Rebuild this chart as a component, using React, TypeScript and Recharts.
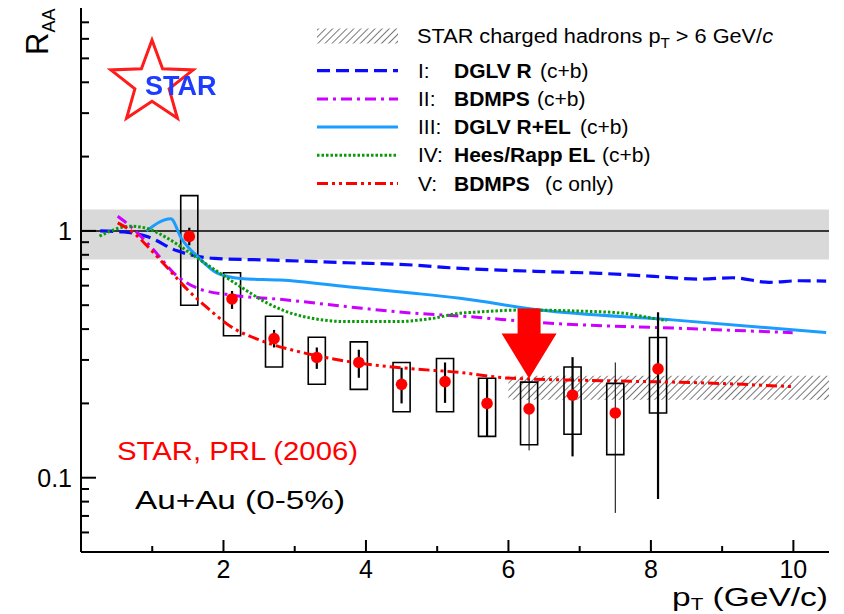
import React from "react";
import {
  ComposedChart,
  Line,
  Scatter,
  XAxis,
  YAxis,
  ReferenceArea,
  ReferenceLine,
} from "recharts";

// theory curves: pT (GeV/c) and R_AA
const dglvRX = [0.27, 0.6, 0.94, 1.35, 1.87, 2.71, 3.74, 4.67, 5.18, 5.88, 6.58, 7.28, 7.98, 8.68, 9.15, 9.66, 10.08, 10.46];
const dglvRY = [1.0, 0.99, 0.946, 0.83, 0.774, 0.761, 0.743, 0.727, 0.709, 0.694, 0.683, 0.673, 0.656, 0.638, 0.646, 0.619, 0.628, 0.626];

const bdmpsCbX = [0.515, 0.7, 0.98, 1.36, 1.64, 2.1, 2.8, 3.74, 4.67, 5.32, 6.54, 8.31, 9.99];
const bdmpsCbY = [1.147, 1.04, 0.862, 0.652, 0.585, 0.55, 0.528, 0.493, 0.464, 0.452, 0.423, 0.404, 0.387];

const dglvElX = [0.92, 1.26, 1.41, 1.64, 1.92, 2.24, 2.8, 3.74, 4.67, 5.32, 6.44, 8.3, 10.46];
const dglvElY = [1.0, 1.12, 0.932, 0.785, 0.673, 0.642, 0.632, 0.594, 0.559, 0.533, 0.478, 0.436, 0.387];

const heesRappX = [0.26, 0.42, 0.7, 0.94, 1.22, 1.54, 1.87, 2.24, 2.62, 3.04, 3.74, 4.44, 4.95, 5.32, 5.51, 6.21, 6.91, 7.61, 7.94, 8.22];
const heesRappY = [0.952, 1.0, 1.045, 1.02, 0.932, 0.81, 0.698, 0.594, 0.509, 0.456, 0.429, 0.429, 0.443, 0.464, 0.468, 0.478, 0.474, 0.464, 0.447, 0.433];

const bdmpsCX = [0.515, 0.75, 0.94, 1.22, 1.5, 1.78, 2.1, 2.52, 3.04, 3.74, 4.67, 5.32, 5.98, 7.38, 8.78, 9.97];
const bdmpsCY = [1.077, 0.976, 0.862, 0.705, 0.576, 0.486, 0.41, 0.36, 0.325, 0.296, 0.276, 0.267, 0.2535, 0.247, 0.242, 0.234];

// STAR non-photonic electrons, central Au+Au
const dataX = [1.52, 2.12, 2.71, 3.31, 3.9, 4.5, 5.11, 5.7, 6.29, 6.9, 7.5, 8.1];
const dataY = [0.95, 0.53, 0.366, 0.307, 0.293, 0.239, 0.245, 0.2, 0.19, 0.216, 0.183, 0.276];
const statLo = [0.875, 0.483, 0.337, 0.276, 0.254, 0.2, 0.201, 0.147, 0.129, 0.122, 0.072, 0.082];
const statHi = [1.03, 0.571, 0.397, 0.337, 0.33, 0.279, 0.293, 0.253, 0.25, 0.308, 0.293, 0.468];
const sysLo = [0.5, 0.376, 0.281, 0.239, 0.228, 0.185, 0.185, 0.147, 0.136, 0.15, 0.124, 0.183];
const sysHi = [1.39, 0.677, 0.451, 0.371, 0.355, 0.293, 0.304, 0.253, 0.244, 0.281, 0.241, 0.37];

// bands and arrow
const normBand = [0.765, 1.22];
const hadronBand = { x: [6, 10.5], y: [0.207, 0.259] };
const arrowTip = [{ x: 6.29, y: 0.2525 }];

const xTicks = [1, 2, 3, 4, 5, 6, 7, 8, 9, 10];
const yTicks = [0.06, 0.07, 0.08, 0.09, 0.1, 0.2, 0.3, 0.4, 0.5, 0.6, 0.7, 0.8, 0.9, 1, 2, 3, 4, 5, 6, 7];
const yLabels = [0.1, 1];

const FONT = '"Liberation Sans", Arial, Helvetica, sans-serif';
const BOX_HALF = 0.12;
const THIN_ERR = [8, 10];

const toXY = (xs: number[], ys: number[]) => xs.map((x, i) => ({ x, y: ys[i] }));

const points = dataX.map((x, i) => ({ x, y: dataY[i] }));

const isMajorX = (v: number) => v % 2 === 0;
const isMajorY = (v: number) => yLabels.includes(v);

const BottomTick = ({ x, y, payload }: any) => {
  const v = payload.value;
  const major = isMajorX(v);
  return (
    <g>
      <line x1={x} y1={y} x2={x} y2={y - (major ? 12 : 6)} stroke="#000" strokeWidth={2} />
      {major && (
        <text x={x} y={y + 26} textAnchor="middle" fontSize={25} fontFamily={FONT} fill="#000">
          {v}
        </text>
      )}
    </g>
  );
};

const TopTick = ({ x, y, payload }: any) => {
  const major = isMajorX(payload.value);
  return <line x1={x} y1={y} x2={x} y2={y + (major ? 10 : 5)} stroke="#000" strokeWidth={2} />;
};

const LeftTick = ({ x, y, payload }: any) => {
  const v = payload.value;
  const major = isMajorY(v);
  return (
    <g>
      <line x1={x} y1={y} x2={x + (major ? 15 : 8)} y2={y} stroke="#000" strokeWidth={2} />
      {major && (
        <text x={x - 9} y={y + 9} textAnchor="end" fontSize={25} fontFamily={FONT} fill="#000">
          {v}
        </text>
      )}
    </g>
  );
};

const RightTick = ({ x, y, payload }: any) => {
  const major = isMajorY(payload.value);
  return <line x1={x} y1={y} x2={x - (major ? 15 : 8)} y2={y} stroke="#000" strokeWidth={2} />;
};

const Arrow = ({ cx, cy }: any) => (
  <polygon
    points={`${cx},${cy} ${cx - 27.5},${cy - 45} ${cx - 11.5},${cy - 45} ${cx - 11.5},${cy - 70} ${cx + 11.5},${cy - 70} ${cx + 11.5},${cy - 45} ${cx + 27.5},${cy - 45}`}
    fill="#ff0000"
  />
);

const curves = [
  { name: "I", xs: dglvRX, ys: dglvRY, color: "#0a0aff", dash: "13 6", width: 3.2 },
  { name: "II", xs: bdmpsCbX, ys: bdmpsCbY, color: "#cc00ff", dash: "11 5 3 5", width: 3 },
  { name: "III", xs: dglvElX, ys: dglvElY, color: "#1b9cff", dash: undefined, width: 3 },
  { name: "IV", xs: heesRappX, ys: heesRappY, color: "#0a9a0a", dash: "2.5 2", width: 3 },
  { name: "V", xs: bdmpsCX, ys: bdmpsCY, color: "#ff0000", dash: "11 4 3 4 3 4", width: 3 },
];

const legendRows = [
  { num: "I:", name: "DGLV R", tail: "(c+b)", tailX: 540, color: "#0a0aff", dash: "13 6", width: 3.2 },
  { num: "II:", name: "BDMPS", tail: "(c+b)", tailX: 537, color: "#cc00ff", dash: "11 5 3 5", width: 3 },
  { num: "III:", name: "DGLV R+EL", tail: "(c+b)", tailX: 580, color: "#1b9cff", dash: undefined, width: 3 },
  { num: "IV:", name: "Hees/Rapp EL", tail: "(c+b)", tailX: 602, color: "#0a9a0a", dash: "2.5 2", width: 3 },
  { num: "V:", name: "BDMPS", tail: "(c only)", tailX: 545, color: "#ff0000", dash: "11 4 3 4 3 4", width: 3 },
];

function Overlay() {
  const cx = 152;
  const cy = 83.3;
  const star = Array.from({ length: 10 }, (_, i) => {
    const r = i % 2 === 0 ? 43.3 : 18;
    const a = (i * Math.PI) / 5;
    return `${cx + r * Math.sin(a)},${cy - r * Math.cos(a)}`;
  }).join(" ");
  return (
    <svg
      width={844}
      height={614}
      style={{ position: "absolute", left: 0, top: 0, pointerEvents: "none" }}
      fontFamily={FONT}
    >
      <defs>
        <pattern id="hatchLegend" width="5" height="5" patternUnits="userSpaceOnUse" patternTransform="rotate(45)">
          <line x1="0" y1="0" x2="0" y2="5" stroke="#555" strokeWidth="1.6" />
        </pattern>
        <filter id="soft">
          <feGaussianBlur stdDeviation="0.6" />
        </filter>
      </defs>

      {/* experiment logo */}
      <g filter="url(#soft)">
        <polygon points={star} fill="none" stroke="#ff1a1a" strokeWidth={3} strokeLinejoin="miter" />
        <text x={145} y={95} fontSize={27} fontWeight="bold" fill="#1f3cff">
          STAR
        </text>
      </g>

      {/* axis titles */}
      <g transform="translate(48,55) rotate(-90)">
        <text x={0} y={0} fontSize={31} fill="#000">
          R<tspan fontSize={18} dy={7}>AA</tspan>
        </text>
      </g>
      <text x={672} y={606} fontSize={26} fill="#000" textLength={156} lengthAdjust="spacingAndGlyphs">
        p<tspan fontSize={16} dy={3.5}>T</tspan>
        <tspan dy={-3.5}> (GeV/c)</tspan>
      </text>

      {/* annotations */}
      <text x={117} y={460} fontSize={26} fill="#ff0000" textLength={241} lengthAdjust="spacingAndGlyphs">
        STAR, PRL (2006)
      </text>
      <text x={135} y={509} fontSize={26} fill="#000" textLength={210} lengthAdjust="spacingAndGlyphs">
        Au+Au (0-5%)
      </text>

      {/* legend */}
      <rect x={317} y={28.5} width={81} height={15} fill="url(#hatchLegend)" />
      <text x={417} y={43.3} fontSize={20} fill="#000" textLength={356} lengthAdjust="spacingAndGlyphs">
        STAR charged hadrons p<tspan fontSize={14} dy={5}>T</tspan>
        <tspan dy={-5}> &gt; 6 GeV/</tspan>
        <tspan fontStyle="italic">c</tspan>
      </text>
      {legendRows.map((row, i) => {
        const yc = 70.7 + i * 28.2;
        return (
          <g key={row.num}>
            <line x1={317} y1={yc} x2={398} y2={yc} stroke={row.color} strokeWidth={row.width} strokeDasharray={row.dash} />
            <text x={418} y={yc + 7} fontSize={21} fill="#000">
              {row.num}
              <tspan x={454} fontWeight="bold">
                {row.name}
              </tspan>
              <tspan x={row.tailX}>{row.tail}</tspan>
            </text>
          </g>
        );
      })}
    </svg>
  );
}

export default function App() {
  return (
    <div style={{ position: "absolute", left: 0, top: 0, width: 844, height: 614, background: "#fff" }}>
      <ComposedChart width={844} height={614} margin={{ top: 8, right: 15, bottom: 22, left: 11 }}>
        <defs>
          <pattern id="hatch" width="5" height="5" patternUnits="userSpaceOnUse" patternTransform="rotate(45)">
            <line x1="0" y1="0" x2="0" y2="5" stroke="#555" strokeWidth="1.6" />
          </pattern>
        </defs>
        <XAxis
          xAxisId="b"
          dataKey="x"
          type="number"
          domain={[0, 10.5]}
          allowDataOverflow
          ticks={xTicks}
          interval={0}
          tickSize={0}
          tickMargin={0}
          height={40}
          axisLine={{ stroke: "#000", strokeWidth: 2 }}
          tickLine={false}
          tick={<BottomTick />}
        />
        <XAxis
          xAxisId="t"
          orientation="top"
          dataKey="x"
          type="number"
          domain={[0, 10.5]}
          allowDataOverflow
          ticks={xTicks}
          interval={0}
          tickSize={0}
          tickMargin={0}
          height={0}
          axisLine={{ stroke: "#000", strokeWidth: 2 }}
          tickLine={false}
          tick={<TopTick />}
        />
        <YAxis
          yAxisId="l"
          dataKey="y"
          type="number"
          scale="log"
          domain={[0.05, 8]}
          allowDataOverflow
          ticks={yTicks}
          interval={0}
          tickSize={0}
          tickMargin={0}
          width={70}
          axisLine={{ stroke: "#000", strokeWidth: 2 }}
          tickLine={false}
          tick={<LeftTick />}
        />
        <YAxis
          yAxisId="r"
          orientation="right"
          dataKey="y"
          type="number"
          scale="log"
          domain={[0.05, 8]}
          allowDataOverflow
          ticks={yTicks}
          interval={0}
          tickSize={0}
          tickMargin={0}
          width={0}
          axisLine={{ stroke: "#000", strokeWidth: 2 }}
          tickLine={false}
          tick={<RightTick />}
        />

        <ReferenceArea xAxisId="b" yAxisId="l" x1={0} x2={10.5} y1={normBand[0]} y2={normBand[1]} fill="#d9d9d9" fillOpacity={1} stroke="none" />
        <ReferenceArea
          xAxisId="b"
          yAxisId="l"
          x1={hadronBand.x[0]}
          x2={hadronBand.x[1]}
          y1={hadronBand.y[0]}
          y2={hadronBand.y[1]}
          fill="url(#hatch)"
          fillOpacity={1}
          stroke="none"
        />
        <ReferenceLine xAxisId="b" yAxisId="l" y={1} stroke="#000" strokeWidth={1.5} />

        {curves.map((c) => (
          <Line
            key={c.name}
            xAxisId="b"
            yAxisId="l"
            data={toXY(c.xs, c.ys)}
            dataKey="y"
            type="monotone"
            stroke={c.color}
            strokeWidth={c.width}
            strokeDasharray={c.dash}
            dot={false}
            activeDot={false}
            isAnimationActive={false}
          />
        ))}

        {dataX.map((x, i) => (
          <ReferenceArea
            key={`sys${i}`}
            xAxisId="b"
            yAxisId="l"
            x1={x - BOX_HALF}
            x2={x + BOX_HALF}
            y1={sysLo[i]}
            y2={sysHi[i]}
            fill="none"
            stroke="#000"
            strokeWidth={1.6}
          />
        ))}
        {dataX.map((x, i) => (
          <ReferenceLine
            key={`stat${i}`}
            xAxisId="b"
            yAxisId="l"
            segment={[
              { x, y: statLo[i] },
              { x, y: statHi[i] },
            ]}
            stroke="#000"
            strokeWidth={THIN_ERR.includes(i) ? 1 : 2.2}
          />
        ))}

        <Scatter
          xAxisId="b"
          yAxisId="l"
          data={points}
          fill="#ff0000"
          shape={(p: any) => <circle cx={p.cx} cy={p.cy} r={5.8} fill="#ff0000" />}
          isAnimationActive={false}
        />
        <Scatter xAxisId="b" yAxisId="l" data={arrowTip} shape={<Arrow />} isAnimationActive={false} />
      </ComposedChart>
      <Overlay />
    </div>
  );
}
